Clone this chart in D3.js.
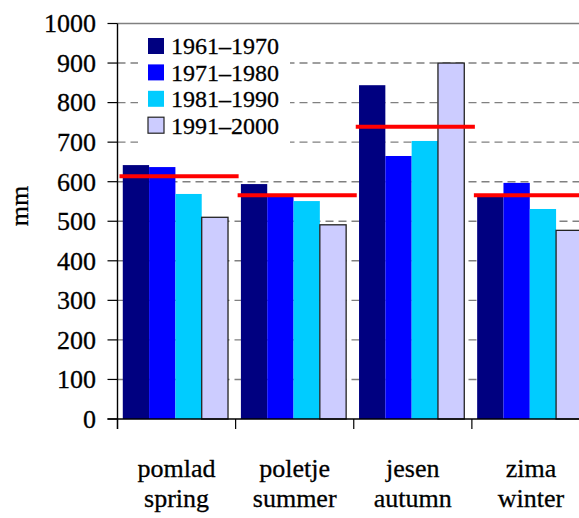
<!DOCTYPE html>
<html><head><meta charset="utf-8">
<script src="https://cdn.jsdelivr.net/npm/d3@7"></script>
<style>
html,body{margin:0;padding:0;background:#fff;}
svg text{font-family:"Liberation Serif","Times New Roman",serif;fill:#000;stroke:#000;stroke-width:0.3px;}
</style>
</head><body>
<svg id="chart" width="579" height="518"></svg>
<script>
const categoriesSl = ["pomlad", "poletje", "jesen", "zima"];
const categoriesEn = ["spring", "summer", "autumn", "winter"];
const series = ["1961–1970", "1971–1980", "1981–1990", "1991–2000"];
const values1961 = [642, 594, 844, 562];
const values1971 = [637, 564, 665, 597];
const values1981 = [569, 551, 703, 531];
const values1991 = [510, 491, 900, 477];
const averages = [614, 566, 739, 566];
const yTicks = [0, 100, 200, 300, 400, 500, 600, 700, 800, 900, 1000];
const colors = ["#000080", "#0000FF", "#00CCFF", "#CCCCFF"];

const seriesValues = [values1961, values1971, values1981, values1991];
const svg = d3.select("#chart");

const plotLeft = 117.5, plotRight = 590, plotTop = 23.5, plotBottom = 419;
const x = d3.scaleBand().domain(categoriesSl).range([plotLeft, plotRight]).padding(0);
const xi = d3.scaleBand().domain(series).range([0, x.bandwidth()])
  .paddingInner(0).paddingOuter(0.245).align(0.41);
const y = d3.scaleLinear().domain([0, 1000]).range([plotBottom, plotTop]);

// gridlines
svg.append("g").selectAll("line").data(yTicks.filter(t => t > 0 && t < 1000)).join("line")
  .attr("x1", plotLeft).attr("x2", 579)
  .attr("y1", d => y(d)).attr("y2", d => y(d))
  .attr("stroke", "#808080").attr("stroke-width", 1.4).attr("stroke-dasharray", "8,5");
// top border
svg.append("line").attr("x1", plotLeft).attr("x2", 579).attr("y1", y(1000)).attr("y2", y(1000))
  .attr("stroke", "#808080").attr("stroke-width", 1.4);

// legend background
const legend = svg.append("g");
legend.append("rect").attr("x", 138).attr("y", 28).attr("width", 152).attr("height", 124).attr("fill", "#fff");

// bars
const data = [];
categoriesSl.forEach((c, ci) => series.forEach((s, si) => data.push({c, s, si, v: seriesValues[si][ci]})));
svg.append("g").selectAll("rect").data(data).join("rect")
  .attr("x", d => x(d.c) + xi(d.s))
  .attr("width", xi.bandwidth())
  .attr("y", d => y(d.v))
  .attr("height", d => y(0) - y(d.v))
  .attr("fill", d => colors[d.si])
  .attr("stroke", d => d.si === 3 ? "#222" : "none")
  .attr("stroke-width", 1.3);

// average lines
svg.append("g").selectAll("line").data(averages).join("line")
  .attr("x1", (d, i) => x(categoriesSl[i]) + 2)
  .attr("x2", (d, i) => x(categoriesSl[i]) + x.bandwidth() + 3)
  .attr("y1", d => y(d)).attr("y2", d => y(d))
  .attr("stroke", "#FF0000").attr("stroke-width", 4);

// y axis
const ya = svg.append("g");
ya.append("line").attr("x1", plotLeft).attr("x2", plotLeft).attr("y1", plotTop).attr("y2", plotBottom + 10)
  .attr("stroke", "#000").attr("stroke-width", 1.4);
ya.selectAll(".tk").data(yTicks).join("line").attr("class", "tk")
  .attr("x1", plotLeft - 10).attr("x2", plotLeft)
  .attr("y1", d => y(d)).attr("y2", d => y(d))
  .attr("stroke", "#000").attr("stroke-width", 1.2);
ya.selectAll("text").data(yTicks).join("text")
  .attr("x", 96).attr("y", d => y(d)).attr("dy", "0.34em")
  .attr("text-anchor", "end").attr("font-size", 26).text(d => d);

// x axis
const xa = svg.append("g");
xa.append("line").attr("x1", plotLeft - 10).attr("x2", 579).attr("y1", plotBottom).attr("y2", plotBottom)
  .attr("stroke", "#000").attr("stroke-width", 1.4);
xa.selectAll(".ct").data(categoriesSl).join("line").attr("class", "ct")
  .attr("x1", d => x(d)).attr("x2", d => x(d))
  .attr("y1", plotBottom).attr("y2", plotBottom + 10)
  .attr("stroke", "#000").attr("stroke-width", 1.2);
xa.selectAll(".l1").data(categoriesSl).join("text").attr("class", "l1")
  .attr("x", d => x(d) + x.bandwidth() / 2).attr("y", 477)
  .attr("text-anchor", "middle").attr("font-size", 26).text(d => d);
xa.selectAll(".l2").data(categoriesEn).join("text").attr("class", "l2")
  .attr("x", (d, i) => x(categoriesSl[i]) + x.bandwidth() / 2).attr("y", 507)
  .attr("text-anchor", "middle").attr("font-size", 26).text(d => d);

// y label
svg.append("text").attr("transform", "translate(28,206) rotate(-90)")
  .attr("text-anchor", "middle").attr("font-size", 26).text("mm");

// legend
const li = legend.selectAll("g.li").data(series).join("g").attr("class", "li")
  .attr("transform", (d, i) => `translate(148,${46 + i * 26.4})`);
li.append("rect").attr("x", 0).attr("y", -8).attr("width", 16).attr("height", 16)
  .attr("fill", (d, i) => colors[i])
  .attr("stroke", (d, i) => i === 3 ? "#222" : "none").attr("stroke-width", 1.2);
li.append("text").attr("x", 23).attr("y", 0).attr("dy", "0.35em")
  .attr("font-size", 24).text(d => d);
</script>
</body></html>
